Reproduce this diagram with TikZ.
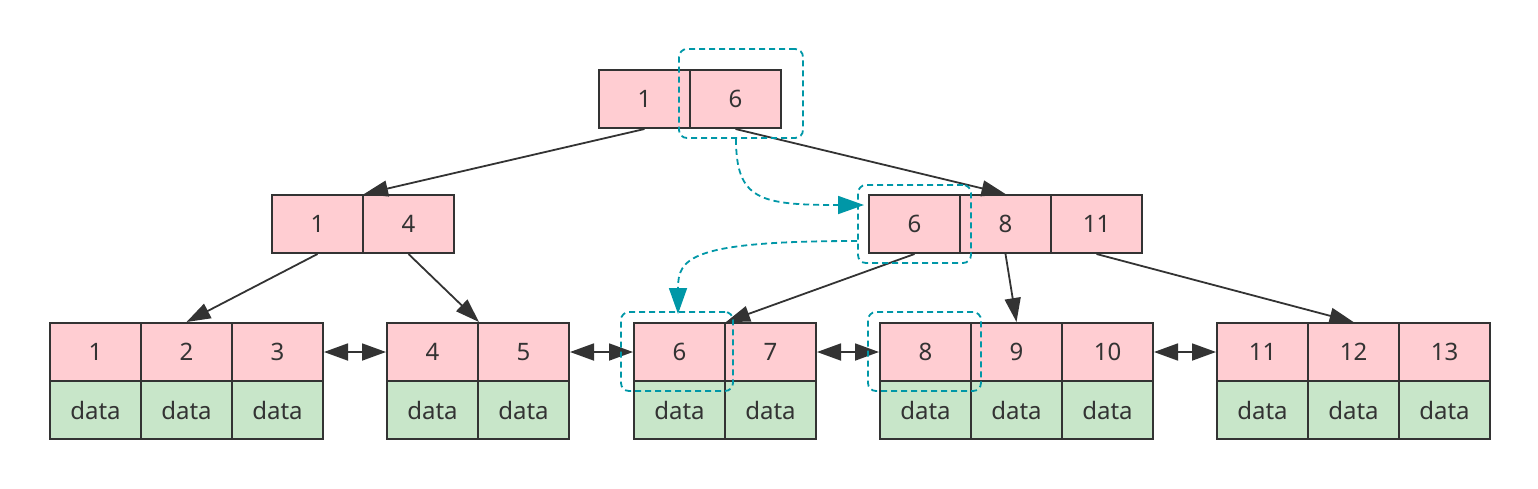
\documentclass[tikz,border=0pt]{standalone}
\usepackage{fontspec}
\setmainfont{Noto Sans}
\usetikzlibrary{arrows.meta}
\definecolor{keypink}{RGB}{255,205,210}
\definecolor{datagreen}{RGB}{200,230,201}
\definecolor{strokegray}{RGB}{51,51,51}
\definecolor{tealdash}{RGB}{0,151,167}
\tikzset{
  cell/.style={draw=strokegray, line width=2pt, rectangle, inner sep=0pt,
    minimum width=91pt, minimum height=58pt, text=strokegray,
    font=\fontsize{24}{28}\selectfont},
  keycell/.style={cell, fill=keypink},
  datacell/.style={cell, fill=datagreen},
  edge/.style={draw=strokegray, line width=1.8pt, -{Triangle[length=24pt,width=16pt]}},
  dbl/.style={draw=strokegray, line width=1.8pt, {Triangle[length=24pt,width=17pt]}-{Triangle[length=24pt,width=17pt]}},
  dbox/.style={draw=tealdash, line width=1.8pt, dash pattern=on 6pt off 4pt, rounded corners=8pt, rectangle, inner sep=0pt},
  darrow/.style={draw=tealdash, line width=1.8pt, dash pattern=on 6pt off 4pt, -{Triangle[length=26pt,width=18pt]}},
}
\begin{document}
\begin{tikzpicture}[x=1pt,y=-1pt]
\useasboundingbox (0,0) rectangle (1538,488);
% root
\node[keycell] (r1) at (644.5,99) {1};
\node[keycell] (r2) at (735.5,99) {6};
% level 2
\node[keycell] (a1) at (317.5,224) {1};
\node[keycell] (a2) at (408.5,224) {4};
\node[keycell] (b1) at (914.5,224) {6};
\node[keycell] (b2) at (1005.5,224) {8};
\node[keycell] (b3) at (1096.5,224) {11};
% leaves
\foreach \lbl [count=\i] in {1,2,3}{
  \node[keycell] (l1k\i) at ({50+45.5+(\i-1)*91},352) {\lbl};
  \node[datacell] (l1d\i) at ({50+45.5+(\i-1)*91},410) {data};
}
\foreach \lbl [count=\i] in {4,5}{
  \node[keycell] (l2k\i) at ({387+45.5+(\i-1)*91},352) {\lbl};
  \node[datacell] (l2d\i) at ({387+45.5+(\i-1)*91},410) {data};
}
\foreach \lbl [count=\i] in {6,7}{
  \node[keycell] (l3k\i) at ({634+45.5+(\i-1)*91},352) {\lbl};
  \node[datacell] (l3d\i) at ({634+45.5+(\i-1)*91},410) {data};
}
\foreach \lbl [count=\i] in {8,9,10}{
  \node[keycell] (l4k\i) at ({880+45.5+(\i-1)*91},352) {\lbl};
  \node[datacell] (l4d\i) at ({880+45.5+(\i-1)*91},410) {data};
}
\foreach \lbl [count=\i] in {11,12,13}{
  \node[keycell] (l5k\i) at ({1217+45.5+(\i-1)*91},352) {\lbl};
  \node[datacell] (l5d\i) at ({1217+45.5+(\i-1)*91},410) {data};
}
% tree edges
\draw[edge] (r1.south) -- (a1.north east);
\draw[edge] (r2.south) -- (b2.north);
\draw[edge] (a1.south) -- (l1k2.north);
\draw[edge] (a2.south) -- (l2k1.north east);
\draw[edge] (b1.south) -- (l3k1.north east);
\draw[edge] (b2.south) -- (l4k2.north);
\draw[edge] (b3.south) -- (l5k2.north);
% leaf links
\draw[dbl] (l1k3.east) -- (l2k1.west);
\draw[dbl] (l2k2.east) -- (l3k1.west);
\draw[dbl] (l3k2.east) -- (l4k1.west);
\draw[dbl] (l4k3.east) -- (l5k1.west);
% dashed highlight boxes
\node[dbox, minimum width=124pt, minimum height=89pt] (d1) at (741,93.5) {};
\node[dbox, minimum width=113pt, minimum height=78pt] (d2) at (914.5,224) {};
\node[dbox, minimum width=112pt, minimum height=79pt] (d3) at (677,351.5) {};
\node[dbox, minimum width=113pt, minimum height=79pt] (d4) at (924.5,351.5) {};
% dashed search path
\coordinate (t1) at (864,205);
\coordinate (s2) at (d2.west |- 0,241);
\coordinate (t2) at (678,314);
\draw[darrow] (d1.south -| 736,0) .. controls (736,200) and (760,205) .. (t1);
\draw[darrow] (s2) .. controls (690,241) and (678,258) .. (t2);
\end{tikzpicture}
\end{document}
